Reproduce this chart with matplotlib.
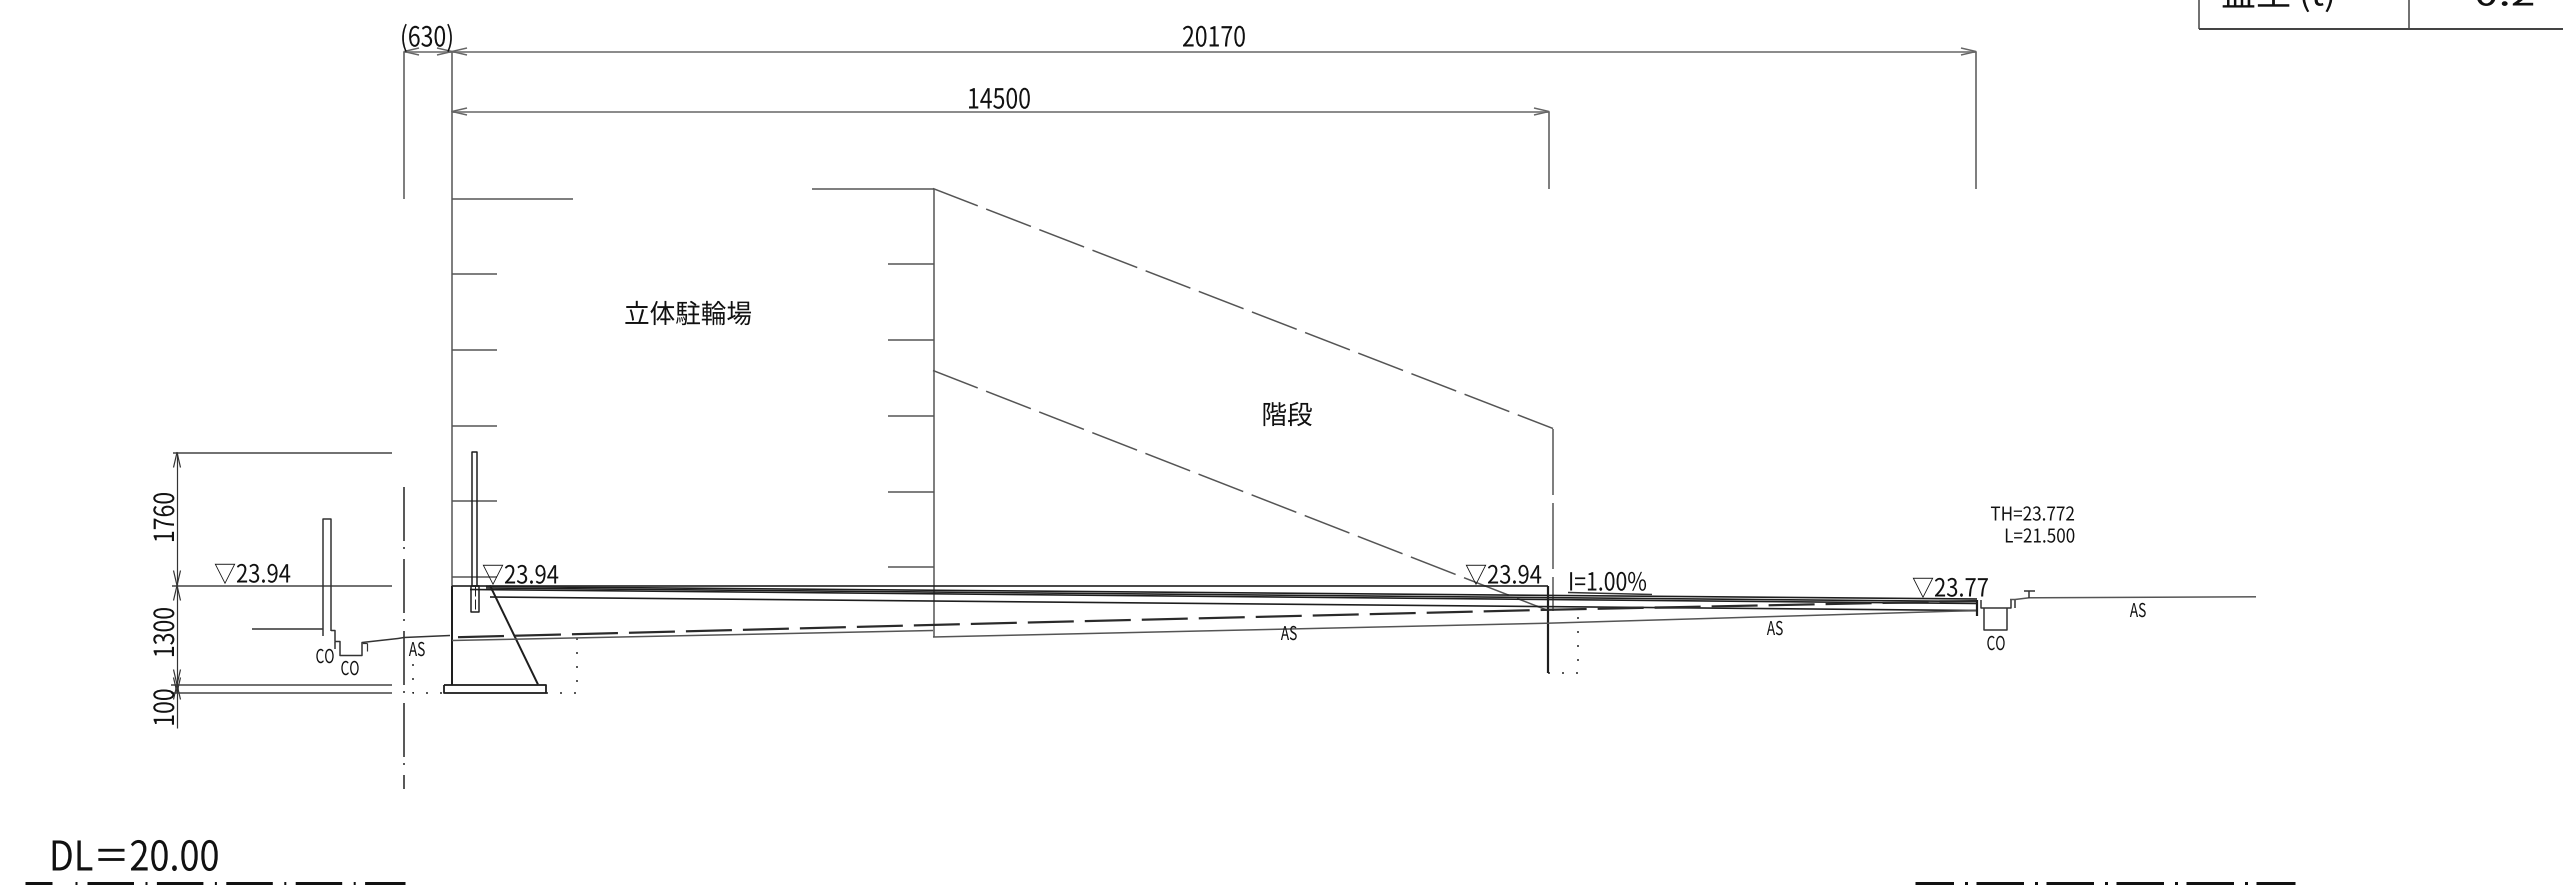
import matplotlib
matplotlib.use('Agg')
import matplotlib.pyplot as plt
from matplotlib.patheffects import AbstractPathEffect
from matplotlib.transforms import Affine2D

W, H = 2563, 887
CJK = ['Noto Sans CJK JP', 'DejaVu Sans']
THIN = '#555555'
DARK = '#1e1e1e'

wall_ticks_y = [198, 273, 349, 425, 500, 576]
wall_ticks_end = [573, 497, 497, 497, 497, 497]
stair_ticks_y = [263, 339, 415, 491, 566]

dim_labels = ['(630)', '20170', '14500']
dim_label_x = [427, 1214, 999]
dim_label_y = [46, 46, 108]

side_labels = ['1760', '1300', '100']
side_label_y = [517, 632, 707]
side_levels_y = [452, 585, 684, 692]
side_arrows = [(452, 1), (585, -1), (585, 1), (684, -1), (684, 1), (692, -1)]

level_labels = ['▽23.94', '▽23.94', '▽23.94', '▽23.77']
level_x = [214, 482, 1465, 1912]
level_y = [582, 583, 583, 596]

small_labels = ['CO', 'CO', 'AS', 'AS', 'AS', 'AS', 'CO']
small_x = [325, 350, 417, 1289, 1775, 2138, 1996]
small_y = [657, 669, 650, 634, 629, 611, 644]

# slab and pavement lines, running down the 1% grade
slab_lines = [
    ([452, 1548], [585, 585]),
    ([486, 1977], [586, 598.5]),
    ([486, 1977], [587.5, 601]),
    ([470, 1977], [589, 603]),
    ([490, 1977], [596.5, 610]),
]
base_x_a = [452, 933]
base_y_a = [640, 630]
base_x_b = [933, 1000, 1548, 1977]
base_y_b = [636.5, 635, 622.7, 610]
dash_x = [458, 1000, 1548, 1977]
dash_y = [636.7, 622.7, 609.3, 600.5]

ground_x = [323, 252]
ground_y = [628, 628]
gutter_x = [331, 335, 335, 340, 340, 362, 362, 398, 404, 450]
gutter_y = [630, 630, 641, 641, 655, 655, 642, 638, 637, 635]
road_x = [2010, 2015, 2029, 2256]
road_y = [599, 599, 597.3, 596.3]

stair_upper_x = [933, 1553]
stair_upper_y = [188, 428]
stair_lower_x = [933, 1548]
stair_lower_y = [370, 610]

plt.rcParams['lines.scale_dashes'] = False
plt.rcParams['lines.solid_capstyle'] = 'butt'
plt.rcParams['lines.dash_capstyle'] = 'butt'

fig = plt.figure(figsize=(W / 100, H / 100), dpi=100)
ax = fig.add_axes([0, 0, 1, 1])
ax.set_xlim(0, W)
ax.set_ylim(H - 1.5, -1.5)
ax.axis('off')
renderer = fig.canvas.get_renderer()


class Squeeze(AbstractPathEffect):
    # no narrow CAD font here, so glyphs are narrowed along the baseline
    def __init__(self, sx):
        super().__init__()
        self.sx = sx

    def draw_path(self, renderer, gc, tpath, affine, rgbFace=None):
        renderer.draw_path(gc, tpath, Affine2D().scale(self.sx, 1) + affine, rgbFace)


def px(*values):
    # dash patterns are given in points
    return tuple(v * 0.72 for v in values)


def line(xs, ys, color=THIN, lw=1.5, dashes=None):
    if dashes is None:
        ax.plot(xs, ys, color=color, lw=lw * 0.72)
    else:
        ax.plot(xs, ys, color=color, lw=lw * 0.72, linestyle=dashes)


def arrow(x, y, dx, dy):
    # open CAD arrow head, dx/dy say where the barbs run
    if dx != 0:
        line([x + dx * 15, x, x + dx * 15], [y - 3.5, y, y + 3.5], color='#666666')
    else:
        line([x - 3.5, x, x + 3.5], [y + dy * 15, y, y + dy * 15], color='#333333', lw=1.2)


def label(x, y, s, size, sx=0.85, ha='center', va='baseline', rotation=0):
    if rotation == 90:
        t = ax.text(x, y, s, fontsize=size, ha='center', va='bottom', rotation=90,
                    family=CJK, color='#111111')
        length = t.get_window_extent(renderer).height
        t.set_y(y + length * sx / 2)
    else:
        t = ax.text(x, y, s, fontsize=size, ha='left', va=va, family=CJK, color='#111111')
        width = t.get_window_extent(renderer).width
        if ha == 'center':
            t.set_x(x - width * sx / 2)
        elif ha == 'right':
            t.set_x(x - width * sx)
    t.set_path_effects([Squeeze(sx)])
    return t


# top dimensions
line([404, 404], [51, 198])
line([452, 452], [51, 585])
line([1976, 1976], [51, 188])
line([1549, 1549], [111, 188])
line([404, 1976], [51, 51], color='#666666')
line([452, 1549], [111, 111], color='#666666')
for x, d in [(404, 1), (452, -1), (452, 1), (1976, -1)]:
    arrow(x, 51, d, 0)
for x, d in [(452, 1), (1549, -1)]:
    arrow(x, 111, d, 0)
for s, x, y in zip(dim_labels, dim_label_x, dim_label_y):
    label(x, y, s, 20, sx=0.83)

# bike shelter and stair outlines
for y, x_end in zip(wall_ticks_y, wall_ticks_end):
    line([452, x_end], [y, y])
line([812, 933.5], [188, 188])
line([933.5, 933.5], [188, 636.5])
for y in stair_ticks_y:
    line([888, 933.5], [y, y])
line(stair_upper_x, stair_upper_y, dashes=(0, px(48, 9)))
line(stair_lower_x, stair_lower_y, dashes=(0, px(48, 9)))
line([1553, 1553], [428, 610], dashes=(0, px(66, 8)))
label(688, 315, '立体駐輪場', 19, sx=0.97, va='center')
label(1287, 416, '階段', 19, sx=0.97, va='center')

# side dimensions on the left
line([177, 177], [452, 727], color='#333333', lw=1.2)
for y, x0 in zip(side_levels_y, [173, 172, 171, 171]):
    line([x0, 392], [y, y], color='#444444')
for y, d in side_arrows:
    arrow(177, y, 0, d)
for s, y in zip(side_labels, side_label_y):
    label(166, y, s, 20, sx=0.83, rotation=90)

# centre line through the boundary
line([404, 404], [486, 789], color='#222222', dashes=(0, px(54, 6, 2, 10)))

# left fence and gutter
line([323, 323, 331, 331], [635, 518, 518, 630], color='#333333')
line(ground_x, ground_y, color='#333333')
line(gutter_x, gutter_y, color='#333333')
line([335, 335], [641, 648], color='#333333')
line([366.5, 366.5], [642, 650], color='#333333', lw=1.2)
line([362, 366.5], [642, 642], color='#333333', lw=1.2)

# wall, footing and post
line([452, 452], [585, 684], color=DARK, lw=2)
line([490, 538], [585, 684], color=DARK, lw=2)
line([444, 546, 546, 444, 444], [684, 684, 692, 692, 684], color=DARK, lw=1.8)
line([472.3, 472.3, 476.5, 476.5], [585, 451.5, 451.5, 585], color=DARK)
line([470.7, 470.7, 478.7, 478.7, 470.7], [585, 611.5, 611.5, 585, 585], color=DARK)
line([474.5, 474.5], [585, 611], color=DARK, lw=1, dashes=(0, px(10, 3)))

# dotted ghost footings
dots = (0, px(2, 12))
line([413, 413, 444], [663, 692, 692], color='#222222', dashes=dots)
line([546, 577, 577], [692, 692, 636], color='#222222', dashes=dots)
line([1548, 1578, 1578], [672, 672, 609], color='#222222', dashes=dots)
line([1548, 1548], [585, 672], color=DARK, lw=2.2)

# slab
for xs, ys in slab_lines:
    line(xs, ys, color=DARK, lw=1.6)
line(base_x_a, base_y_a)
line(base_x_b, base_y_b)
line(dash_x, dash_y, color='#2a2a2a', lw=2.2, dashes=(0, px(46, 11)))

# grade note
label(1568, 590, 'I=1.00%', 18, sx=0.85, ha='left')
line([1568, 1652], [592, 594], color='#333333')
line([1976.7, 1976.7], [599, 615], color=DARK, lw=2.2)

# right side curb and road
line([1981, 1981, 2011, 2011], [599, 607, 607, 599], color='#333333')
line([1984, 1984, 2007, 2007], [607, 629.5, 629.5, 607], color='#333333')
line([2015.3, 2015.3], [599, 607], color='#333333')
line(road_x, road_y)
line([2029.3, 2029.3], [590, 597.3], color='#333333')
line([2024, 2035], [590, 590], color='#333333')
label(2075, 520, 'TH=23.772', 13.7, sx=0.9, ha='right')
label(2075, 542, 'L=21.500', 13.7, sx=0.9, ha='right')

for s, x, y in zip(level_labels, level_x, level_y):
    label(x, y, s, 18, sx=0.88, ha='left')
for s, x, y in zip(small_labels, small_x, small_y):
    label(x, y, s, 13.7, sx=0.72, va='center')

# datum
label(49, 870, 'DL＝20.00', 29.5, sx=0.88, ha='left')
line([25, 52], [882.5, 882.5], color='#111111', lw=3)
line([74.5, 77], [882.5, 882.5], color='#111111', lw=3)
line([87, 405], [882.5, 882.5], color='#111111', lw=3, dashes=(0, px(46.5, 11.5, 2, 9.4)))
line([1915, 2295], [882.5, 882.5], color='#111111', lw=3, dashes=(9 * 0.72, px(47.5, 11, 3, 8.5)))

# bottom edge of a table cut off at the top
line([2199.3, 2199.3], [-2, 28], color='#444444')
line([2409.3, 2409.3], [-2, 28], color='#444444')
line([2199.3, 2563], [28, 28], color='#444444', lw=2)
label(2221, 5, '盛土 (t)', 24.5, sx=1.03, ha='left')
label(2474, 5, '0.2', 24.5, sx=1.3, ha='left')

fig.savefig('out.png', dpi=100, facecolor='white')
